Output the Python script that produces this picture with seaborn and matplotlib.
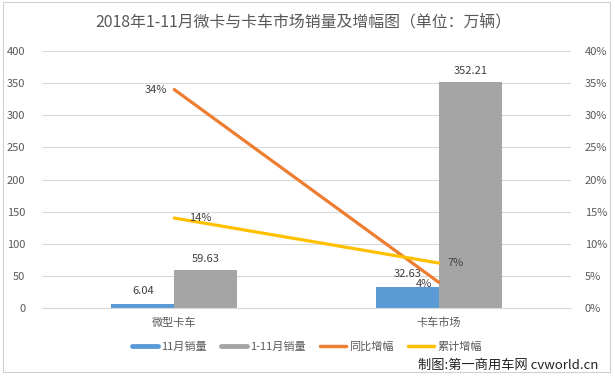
import numpy as np
import pandas as pd
import matplotlib
matplotlib.use("Agg")
import matplotlib.pyplot as plt
from matplotlib.lines import Line2D
from matplotlib.patches import Rectangle
import seaborn as sns

categories = ["微型卡车", "卡车市场"]
nov_sales = [6.04, 32.63]
ytd_sales = [59.63, 352.21]
yoy_growth = [34, 4]
cum_growth = [14, 7]
left_ticks = [0, 50, 100, 150, 200, 250, 300, 350, 400]
right_ticks = [0, 5, 10, 15, 20, 25, 30, 35, 40]
series_names = ["11月销量", "1-11月销量", "同比增幅", "累计增幅"]
title = "2018年1-11月微卡与卡车市场销量及增幅图（单位：万辆）"
watermark = "制图:第一商用车网 cvworld.cn"

sns.set_style("white")
plt.rcParams["font.family"] = ["Noto Sans CJK SC", "DejaVu Sans"]

TXT = "#595959"
GRID = "#D9D9D9"
colors = {"11月销量": "#5B9BD5", "1-11月销量": "#A5A5A5"}
line_colors = ["#ED7D31", "#FFC000"]

bars = pd.DataFrame({
    "cat": categories * 2,
    "series": [series_names[0]] * 2 + [series_names[1]] * 2,
    "value": nov_sales + ytd_sales,
})

fig = plt.figure(figsize=(6.15, 3.79), dpi=100)
ax = fig.add_axes([42 / 615, 1 - 308 / 379, 529 / 615, 257 / 379])

sns.barplot(data=bars, x="cat", y="value", hue="series", palette=colors,
            width=0.476, gap=0, ax=ax, legend=False, saturation=1, linewidth=0)
pads = [6, 4]
for c, p in zip(ax.containers, pads):
    ax.bar_label(c, fmt="%.2f", padding=p, fontsize=8, color="#404040")

ax.set_xlim(-0.5, 1.5)
ax.set_ylim(0, 400)
ax.set_yticks(left_ticks)
ax.set_yticklabels([str(t) for t in left_ticks])
ax.yaxis.grid(True, color=GRID, linewidth=0.8)
ax.set_axisbelow(True)
ax.set_xlabel("")
ax.set_ylabel("")
for s in ["top", "left", "right"]:
    ax.spines[s].set_visible(False)
ax.spines["bottom"].set_color(GRID)
ax.spines["bottom"].set_linewidth(0.8)
ax.tick_params(axis="both", length=0, labelsize=8, colors=TXT)
ax.tick_params(axis="y", pad=12)
ax.tick_params(axis="x", pad=7)

ax2 = ax.twinx()
xpos = np.arange(len(categories))
lines_df = pd.DataFrame({
    "x": np.concatenate([xpos, xpos]),
    "v": yoy_growth + cum_growth,
    "s": [series_names[2]] * 2 + [series_names[3]] * 2,
})
sns.lineplot(data=lines_df, x="x", y="v", hue="s", palette=line_colors,
             linewidth=2.3, ax=ax2, legend=False)
ax2.set_ylim(0, 40)
ax2.set_xlim(-0.5, 1.5)
ax2.set_yticks(right_ticks)
ax2.set_yticklabels([f"{t}%" for t in right_ticks])
ax2.set_ylabel("")
ax2.set_xlabel("")
for s in ["top", "left", "right", "bottom"]:
    ax2.spines[s].set_visible(False)
ax2.tick_params(axis="y", length=0, labelsize=8, colors=TXT, pad=10)

# line data labels
ax2.annotate(f"{yoy_growth[0]}%", (xpos[0], yoy_growth[0]), xytext=(-5, 0),
             textcoords="offset points", ha="right", va="center", fontsize=8, color="#404040")
ax2.annotate(f"{yoy_growth[1]}%", (xpos[1], yoy_growth[1]), xytext=(-5, -1.5),
             textcoords="offset points", ha="right", va="center", fontsize=8, color="#404040")
ax2.annotate(f"{cum_growth[0]}%", (xpos[0], cum_growth[0]), xytext=(11, 0),
             textcoords="offset points", ha="left", va="center", fontsize=8, color="#404040")
ax2.annotate(f"{cum_growth[1]}%", (xpos[1], cum_growth[1]), xytext=(6, 0),
             textcoords="offset points", ha="left", va="center", fontsize=8, color="#404040")

fig.text(303 / 615, 1 - 22 / 379, title, ha="center", va="center", fontsize=11.4, color=TXT)

handles = [Line2D([], [], color=colors[series_names[0]], lw=3.5),
           Line2D([], [], color=colors[series_names[1]], lw=3.5),
           Line2D([], [], color=line_colors[0], lw=2.5),
           Line2D([], [], color=line_colors[1], lw=2.5)]
leg = fig.legend(handles, series_names, loc="center", bbox_to_anchor=(307 / 615, 1 - 347 / 379),
                 ncol=4, frameon=False, fontsize=8, handlelength=2.3, handletextpad=0.3,
                 columnspacing=1.3)
for t in leg.get_texts():
    t.set_color(TXT)

fig.text(598 / 615, 1 - 365 / 379, watermark, ha="right", va="center", fontsize=9.5, color="#222222")

fig.patches.append(Rectangle((3 / 615, 1 - 372 / 379), 607 / 615, 370 / 379, transform=fig.transFigure,
                             fill=False, edgecolor="#D0D0D0", linewidth=0.8))

fig.savefig("out.png", dpi=100)
